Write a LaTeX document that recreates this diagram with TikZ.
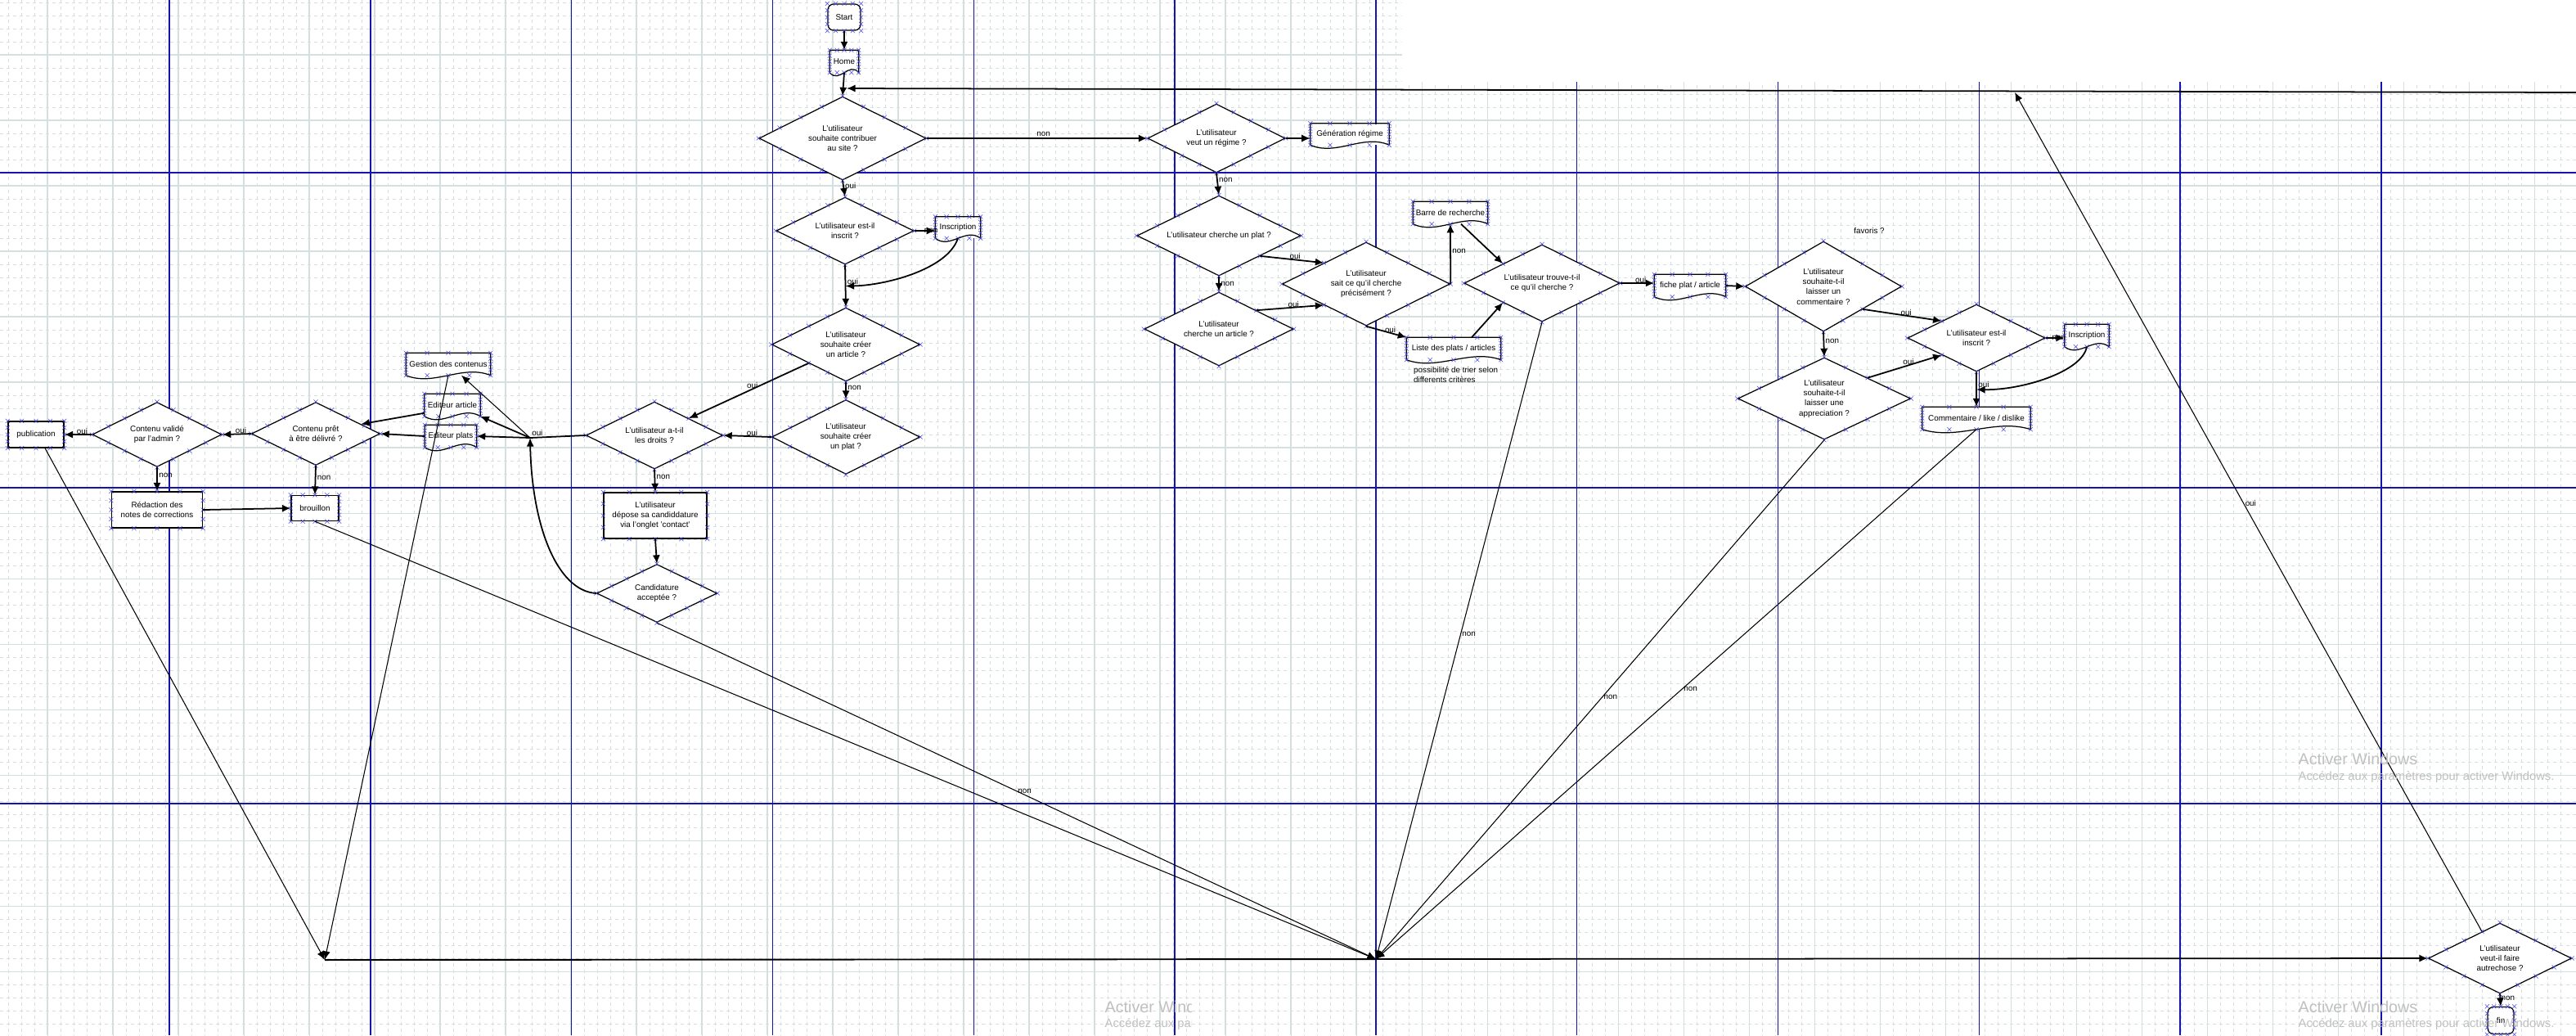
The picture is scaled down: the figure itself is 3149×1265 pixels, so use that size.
\documentclass[tikz,border=0pt]{standalone}
\usepackage{fontspec}
\setmainfont{Liberation Sans}
\usetikzlibrary{shapes.geometric,shapes.misc,arrows.meta,calc}
\definecolor{gridc}{RGB}{212,224,224}
\definecolor{majc}{RGB}{20,20,170}
\definecolor{xmc}{RGB}{70,70,235}
\definecolor{wmc}{RGB}{192,192,192}
\newcommand\fs{\fontsize{2.8pt}{3.5pt}\selectfont}
\newcommand\xmk[4]{\foreach \pA/\pB in {#1/#2,#2/#3,#3/#4,#4/#1}{\foreach \qq in {0,0.25,0.5,0.75}{\node[xm] at ($(\pA)!\qq!(\pB)$) {};}}}
\newcommand\xmd[1]{\xmk{#1.north}{#1.east}{#1.south}{#1.west}}
\newcommand\xmr[1]{\xmk{#1.north west}{#1.north east}{#1.south east}{#1.south west}}
\newcommand\docout[1]{\draw[docline] (#1.south west) -- (#1.north west) -- (#1.north east) -- (#1.south east) .. controls ($(#1.south east)!0.33!(#1.south west)+(0,-14)$) and ($(#1.south east)!0.67!(#1.south west)+(0,14)$) .. (#1.south west);}
\begin{document}
\begin{tikzpicture}[x=0.01cm,y=-0.01cm,
  dia/.style={diamond,aspect=2,draw,fill=white,line width=0.35pt,inner sep=0pt,font=\fs,align=center},
  box/.style={rectangle,draw,fill=white,line width=0.35pt,inner sep=0pt,font=\fs,align=center},
  doc/.style={rectangle,fill=white,inner sep=0pt,font=\fs,align=center},
  term/.style={rectangle,rounded corners=2pt,draw,fill=white,line width=0.35pt,inner sep=0pt,font=\fs,align=center},
  conn/.style={line width=0.5pt,-{Latex[length=3pt,width=2.6pt]}},
  longarrow/.style={line width=0.3pt,-{Latex[length=3pt,width=2.6pt]}},
  hline/.style={line width=0.55pt},
  lbl/.style={font=\fs,inner sep=0.4pt},
  xm/.style={cross out,draw=xmc,line width=0.15pt,minimum size=0.045cm,inner sep=0pt},
  docline/.style={line width=0.35pt},
  wmA/.style={text=wmc,font=\fontsize{5.6pt}{6pt}\selectfont,inner sep=0pt,anchor=west},
  wmB/.style={text=wmc,font=\fontsize{4.2pt}{5pt}\selectfont,inner sep=0pt,anchor=west}]
\useasboundingbox (0,0) rectangle (3149,1265);
\fill[white] (0,0) rectangle (3149,1265);
% grid
\foreach \x in {10,26,...,3130} \draw[gridc,line width=0.28pt,dash pattern=on 0.04cm off 0.04cm] (\x,0) -- (\x,1265);
\foreach \y in {3,19,...,1251} \draw[gridc,line width=0.28pt,dash pattern=on 0.04cm off 0.04cm] (0,\y) -- (3149,\y);
\foreach \x in {58,138,...,3098} \draw[gridc,line width=0.3pt] (\x,0) -- (\x,1265);
\foreach \y in {67,147,...,1187} \draw[gridc,line width=0.3pt] (0,\y) -- (3149,\y);
\foreach \x in {207,452.8,698.6,944.4,1190.2,1436,1681.8,1927.6,2173.4,2419.2,2665,2910.8} \draw[majc,line width=0.4pt] (\x,0) -- (\x,1265);
\foreach \y in {211,596,982} \draw[majc,line width=0.55pt] (0,\y) -- (3149,\y);
\fill[white] (1714,0) rectangle (3149,100);

% nodes
\node[term,minimum width=0.40cm,minimum height=0.32cm] (Start) at (1032,21) {Start};
\node[doc,minimum width=0.34cm,minimum height=0.26cm] (Home) at (1032,75) {Home};
\node[dia,minimum width=2.04cm,minimum height=1.02cm] (D1) at (1030,169) {L'utilisateur\\souhaite contribuer\\au site ?};
\node[dia,minimum width=1.68cm,minimum height=0.84cm] (Dregime) at (1487,169) {L'utilisateur\\veut un régime ?};
\node[doc,minimum width=0.95cm,minimum height=0.25cm] (Gen) at (1650,164) {Génération régime};
\node[dia,minimum width=1.68cm,minimum height=0.82cm] (Dinscrit1) at (1033,282) {L'utilisateur est-il\\inscrit ?};
\node[doc,minimum width=0.54cm,minimum height=0.25cm] (Insc1) at (1171,278) {Inscription};
\node[dia,minimum width=1.81cm,minimum height=0.90cm] (Dart) at (1034,421) {L'utilisateur\\souhaite créer\\un article ?};
\node[dia,minimum width=1.81cm,minimum height=0.91cm] (Dplat) at (1034,534) {L'utilisateur\\souhaite créer\\un plat ?};
\node[dia,minimum width=1.67cm,minimum height=0.82cm] (Ddroits) at (800,532) {L'utilisateur a-t-il\\les droits ?};
\node[box,minimum width=1.26cm,minimum height=0.56cm] (Rcand) at (801,630) {L'utilisateur\\dépose sa candiddature\\via l'onglet 'contact'};
\node[dia,minimum width=1.47cm,minimum height=0.71cm] (Dcand) at (803,725) {Candidature\\acceptée ?};
\node[doc,minimum width=1.02cm,minimum height=0.26cm] (Gestion) at (548,445) {Gestion des contenus};
\node[doc,minimum width=0.67cm,minimum height=0.26cm] (EdArt) at (553,495) {Editeur article};
\node[doc,minimum width=0.62cm,minimum height=0.26cm] (EdPlats) at (551,533) {Editeur plats};
\node[dia,minimum width=1.57cm,minimum height=0.77cm] (Dpret) at (386,530) {Contenu prêt\\à être délivré ?};
\node[dia,minimum width=1.58cm,minimum height=0.79cm] (Dvalide) at (192,531) {Contenu validé\\par l'admin ?};
\node[box,minimum width=0.68cm,minimum height=0.32cm] (Pub) at (44,531) {publication};
\node[box,minimum width=1.11cm,minimum height=0.44cm] (Redac) at (192,623) {Rédaction des\\notes de corrections};
\node[box,minimum width=0.58cm,minimum height=0.31cm] (Brouillon) at (385,621) {brouillon};
\node[dia,minimum width=2.00cm,minimum height=0.98cm] (Dplat2) at (1490,288) {L'utilisateur cherche un plat ?};
\node[dia,minimum width=1.82cm,minimum height=0.90cm] (Dart2) at (1490,402) {L'utilisateur\\cherche un article ?};
\node[dia,minimum width=2.05cm,minimum height=1.02cm] (Dsait) at (1670,347) {L'utilisateur\\sait ce qu'il cherche\\précisément ?};
\node[doc,minimum width=0.90cm,minimum height=0.26cm] (Barre) at (1773,260) {Barre de recherche};
\node[doc,minimum width=1.14cm,minimum height=0.26cm] (Liste) at (1777,426) {Liste des plats / articles};
\node[lbl,anchor=north west,align=left] (Note) at (1726,446) {possibilité de trier selon\\differents critères};
\node[dia,minimum width=1.90cm,minimum height=0.94cm] (Dtrouve) at (1885,346) {L'utilisateur trouve-t-il\\ce qu'il cherche ?};
\node[doc,minimum width=0.86cm,minimum height=0.26cm] (Fiche) at (2066,349) {fiche plat / article};
\node[dia,minimum width=1.91cm,minimum height=1.10cm] (Dcomm) at (2229,350) {L'utilisateur\\souhaite-t-il\\laisser un\\commentaire ?};
\node[lbl] (Fav) at (2285,282) {favoris ?};
\node[dia,minimum width=2.11cm,minimum height=1.00cm] (Dappr) at (2230,487) {L'utilisateur\\souhaite-t-il\\laisser une\\appreciation ?};
\node[dia,minimum width=1.68cm,minimum height=0.82cm] (Dinscrit2) at (2416,413) {L'utilisateur est-il\\inscrit ?};
\node[doc,minimum width=0.53cm,minimum height=0.26cm] (Insc2) at (2551,410) {Inscription};
\node[doc,minimum width=1.31cm,minimum height=0.26cm] (Comm) at (2416,511) {Commentaire / like / dislike};
\node[dia,minimum width=1.75cm,minimum height=0.86cm] (Dfin) at (3056,1171) {L'utilisateur\\veut-il faire\\autrechose ?};
\node[term,minimum width=0.32cm,minimum height=0.33cm] (Fin) at (3057,1247) {fin};

\foreach \n in {Home,Gen,Insc1,Gestion,EdArt,EdPlats,Barre,Liste,Fiche,Insc2,Comm} {\docout{\n}}

\coordinate (J1) at ($(Dinscrit1.south)!0.5!(Dart.north)$);
\coordinate (J2) at ($(Dinscrit2.south)!0.5!(Comm.north)$);
\coordinate (J) at (648,535);
\coordinate (T1) at (397,1173);
\coordinate (T2) at (1682,1172);
\coordinate (R0) at (3149,113);
\coordinate (R1) at (2463,113);
\coordinate (Rhome) at (1035,108);

% markers
\foreach \n in {D1,Dregime,Dinscrit1,Dart,Dplat,Ddroits,Dcand,Dpret,Dvalide,Dplat2,Dart2,Dsait,Dtrouve,Dcomm,Dappr,Dinscrit2,Dfin} {\xmd{\n}}
\foreach \n in {Start,Home,Gen,Insc1,Rcand,Gestion,EdArt,EdPlats,Pub,Redac,Brouillon,Barre,Liste,Fiche,Insc2,Comm,Fin} {\xmr{\n}}

% connectors
\draw[conn] (Start.south) -- (Home.north);
\draw[conn] (Home.south) -- (D1.north);
\draw[conn] (R0) -- (Rhome);
\draw[conn] (D1.east) -- (Dregime.west) node[lbl,pos=0.53,above]{non};
\draw[conn] (Dregime.east) -- (Dregime.east -| Gen.west);
\draw[conn] (Dregime.south) -- (Dplat2.north) node[lbl,pos=0.3,right]{non};
\draw[conn] (Dplat2.south) -- (Dart2.north) node[lbl,pos=0.5,right]{non};
\draw[conn] (D1.south) -- (Dinscrit1.north) node[lbl,pos=0.3,right]{oui};
\draw[conn] (Dinscrit1.east) -- (Dinscrit1.east -| Insc1.west) node[lbl,pos=0.8]{non};
\draw[conn] (Insc1.south) .. controls (1158,330) and (1080,349) .. (J1) node[lbl,pos=1,anchor=south west]{oui};
\draw[conn] (Dinscrit1.south) -- (Dart.north);
\draw[conn] (Dart.south) -- (Dplat.north) node[lbl,pos=0.35,right]{non};
\draw[conn] (Dart.south west) -- (Ddroits.north east) node[lbl,pos=0.47,above=-0.5pt]{oui};
\draw[conn] (Dplat.west) -- (Ddroits.east) node[lbl,pos=0.4,above=-0.5pt]{oui};
\draw[conn] (Ddroits.south) -- (Rcand.north) node[lbl,pos=0.35,right]{non};
\draw[conn] (Rcand.south) -- (Dcand.north);
\draw[conn] (Ddroits.west) -- (J) node[lbl,anchor=south west]{oui} -- (EdPlats.east);
\draw[conn] (J) -- (EdArt.south east);
\draw[longarrow] (J) -- ($(Gestion.south)+(16,0)$);
\draw[conn] (Dcand.west) .. controls (680,722) and (650,640) .. (J);
\draw[conn] ($(EdArt.south west)+(0,-4)$) -- (Dpret.12);
\draw[conn] (EdPlats.west) -- (Dpret.east);
\draw[conn] (Dvalide.west) -- (Pub.east) node[lbl,pos=0.35,above=-0.5pt]{oui};
\draw[conn] (Dpret.west) -- (Dvalide.east) node[lbl,pos=0.35,above=-0.5pt]{oui};
\draw[conn] (Dvalide.south) -- (Redac.north) node[lbl,pos=0.35,right]{non};
\draw[conn] (Dpret.south) -- (Brouillon.north) node[lbl,pos=0.4,right]{non};
\draw[conn] (Redac.east) -- (Brouillon.west);
\draw[longarrow] ($(Pub.south)+(11,0)$) -- (T1);
\draw[longarrow] (Gestion.south) -- (T1);
\draw[longarrow] (Brouillon.south) -- (T2);
\draw[longarrow] (Dcand.south) -- (T2) node[lbl,pos=0.5,right]{non};
\draw[longarrow] (Dtrouve.south) -- (T2) node[lbl,pos=0.49,right]{non};
\draw[longarrow] (Dappr.south) -- (T2) node[lbl,pos=0.495,right]{non};
\draw[longarrow] (Comm.south) -- (T2) node[lbl,pos=0.49,right]{non};
\draw[hline] (T1) -- (T2);
\draw[conn] (T2) -- (Dfin.west);
\draw[conn] (Dfin.south) -- (Fin.north) node[lbl,pos=0.05,anchor=north west,inner sep=0.2pt]{non};
\draw[longarrow] ($(Dfin.north)!0.25!(Dfin.west)$) -- (R1) node[lbl,pos=0.51,right]{oui};
\draw[conn] (Dplat2.south east) -- (Dsait.north west) node[lbl,pos=0.55,above=-0.5pt]{oui};
\draw[conn] (Dart2.north east) -- (Dsait.south west) node[lbl,pos=0.55,above=-0.5pt]{oui};
\draw[conn] (Dsait.east) -- (Barre.south) node[lbl,pos=0.55,right]{non};
\draw[conn] ($(Barre.south)+(13,0)$) -- (Dtrouve.north west);
\draw[conn] (Dsait.south) -- (Liste.north west) node[lbl,pos=0.6,above=-0.5pt]{oui};
\draw[conn] ($(Liste.north)+(22,0)$) -- (Dtrouve.south west);
\draw[conn] (Dtrouve.east) -- (Dtrouve.east -| Fiche.west) node[lbl,pos=0.6,above=-0.5pt]{oui};
\draw[conn] (Fiche.east) -- (Dcomm.west);
\draw[conn] (Dcomm.south east) -- (Dinscrit2.north west) node[lbl,pos=0.55,above=-0.5pt]{oui};
\draw[conn] (Dcomm.south) -- (Dappr.north) node[lbl,pos=0.35,right]{non};
\draw[conn] (Dappr.north east) -- (Dinscrit2.south west) node[lbl,pos=0.55,above=-0.5pt]{oui};
\draw[conn] (Dinscrit2.east) -- (Dinscrit2.east -| Insc2.west) node[lbl,pos=0.7]{non};
\draw[conn] (Insc2.south) .. controls (2545,455) and (2470,477) .. (J2) node[lbl,pos=1,anchor=south west]{oui};
\draw[conn] (Dinscrit2.south) -- (Comm.north);

% watermark
\node[wmA] (W1a) at (2809,927) {Activer Windows};
\node[wmB] (W1b) at (2809,950) {Accédez aux paramètres pour activer Windows.};
\node[wmA] (W2a) at (2809,1230) {Activer Windows};
\node[wmB] (W2b) at (2809,1252) {Accédez aux paramètres pour activer Windows.};
\begin{scope}
\clip (1340,1200) rectangle (1456,1265);
\node[wmA] (W3a) at (1350,1230) {Activer Windows};
\node[wmB] (W3b) at (1350,1252) {Accédez aux paramètres pour activer Windows.};
\end{scope}
\end{tikzpicture}
\end{document}
